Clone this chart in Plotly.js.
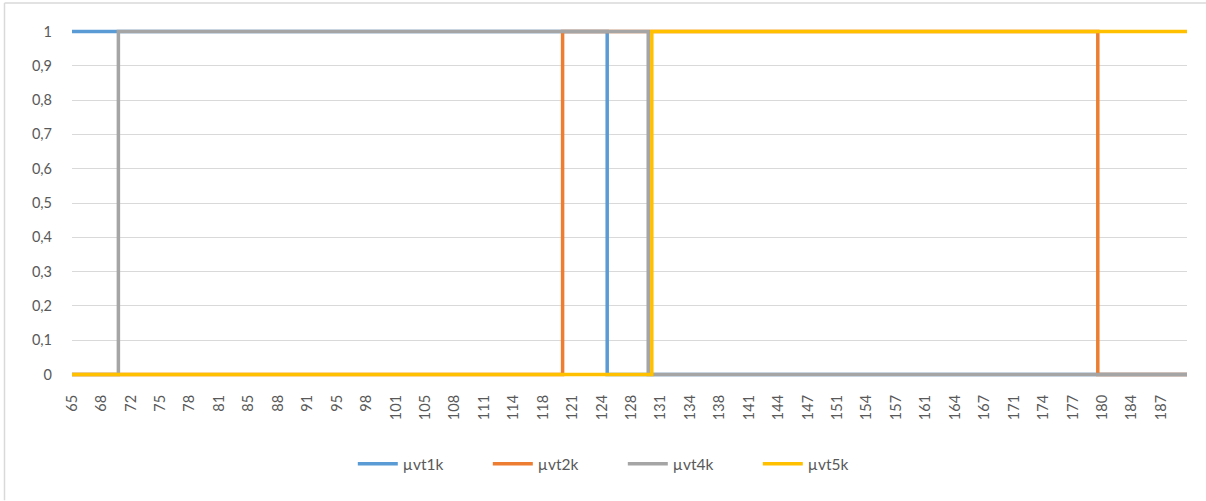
<!DOCTYPE html>
<html>
<head>
<meta charset="utf-8">
<script src="https://cdn.plot.ly/plotly-3.0.1.min.js"></script>
<style>
  html, body { margin: 0; padding: 0; background: #fff; }
  #chart { width: 1206px; height: 501px; }
</style>
</head>
<body>
<div id="chart"></div>
<script>
// Series (step transitions)
const seriesNames = ["µvt1k", "µvt2k", "µvt4k", "µvt5k"];
const colors = ["#5b9bd5", "#ed7d31", "#a5a5a5", "#ffc000"];

const x1 = [65, 125, 125, 190];
const y1 = [1, 1, 0, 0];

const x2 = [65, 120, 120, 180, 180, 190];
const y2 = [0, 0, 1, 1, 0, 0];

const x4 = [65, 70.2, 70.2, 129.6, 129.6, 190];
const y4 = [0, 0, 1, 1, 0, 0];

const x5 = [65, 130, 130, 190];
const y5 = [0, 0, 1, 1];

// Category tick labels (shown every 3.3 units)
const xTickLabels = ["65","68","72","75","78","81","85","88","91","95","98","101","105","108","111","114","118","121","124","128","131","134","138","141","144","147","151","154","157","161","164","167","171","174","177","180","184","187"];
const xTickStart = 65;
const xTickStep = 3.3;

const yTickVals = [0, 0.1, 0.2, 0.3, 0.4, 0.5, 0.6, 0.7, 0.8, 0.9, 1];
const yTickLabels = ["0", "0,1", "0,2", "0,3", "0,4", "0,5", "0,6", "0,7", "0,8", "0,9", "1"];

const xs = [x1, x2, x4, x5];
const ys = [y1, y2, y4, y5];

const traces = seriesNames.map((n, i) => ({
  type: "scatter",
  mode: "lines",
  name: n,
  x: xs[i],
  y: ys[i],
  line: { color: colors[i], width: 3.5 },
  hoverinfo: "x+y+name"
}));

const xTickVals = xTickLabels.map((_, i) => xTickStart + i * xTickStep);

const W = 1206, H = 501;
const plotL = 72, plotR = 1187;
const plotT = 27.5, plotB = 378.5;
const pw = plotR - plotL, ph = plotB - plotT;

const layout = {
  width: W,
  height: H,
  margin: { l: plotL, r: W - plotR, t: plotT, b: H - plotB, pad: 0 },
  paper_bgcolor: "#ffffff",
  plot_bgcolor: "#ffffff",
  font: { family: "Lato, 'Open Sans', sans-serif", size: 14.5, color: "#595959" },
  showlegend: true,
  legend: {
    orientation: "h",
    x: 0.494,
    xanchor: "center",
    y: (plotB - 465) / ph,
    yanchor: "middle",
    font: { size: 15.5, color: "#595959" },
    bgcolor: "rgba(0,0,0,0)",
    itemwidth: 40,
    entrywidth: 80,
    traceorder: "normal"
  },
  xaxis: {
    type: "linear",
    range: [65, 190],
    tickmode: "array",
    tickvals: xTickVals,
    ticktext: xTickLabels,
    tickangle: -90,
    ticks: "",
    showgrid: false,
    zeroline: false,
    showline: false,
    ticklabelstandoff: 13,
    tickfont: { size: 14.5, color: "#595959" },
    fixedrange: true
  },
  yaxis: {
    range: [-0.01, 1.01],
    tickmode: "array",
    tickvals: yTickVals,
    ticktext: yTickLabels,
    ticks: "",
    showgrid: true,
    gridcolor: "#d9d9d9",
    gridwidth: 1,
    zeroline: false,
    showline: false,
    ticklabelstandoff: 19,
    tickfont: { size: 14.5, color: "#595959" },
    fixedrange: true
  },
  shapes: [
    { type: "line", xref: "paper", yref: "paper",
      x0: (4.5 - plotL) / pw, x1: (4.5 - plotL) / pw,
      y0: (plotB - 2.5) / ph, y1: (plotB - 501) / ph,
      line: { color: "#d9d9d9", width: 1.5 }, layer: "below" },
    { type: "line", xref: "paper", yref: "paper",
      x0: (4.5 - plotL) / pw, x1: (1206 - plotL) / pw,
      y0: (plotB - 2.5) / ph, y1: (plotB - 2.5) / ph,
      line: { color: "#d9d9d9", width: 1.5 }, layer: "below" }
  ]
};

Plotly.newPlot("chart", traces, layout, { displayModeBar: false, staticPlot: true });
</script>
</body>
</html>
